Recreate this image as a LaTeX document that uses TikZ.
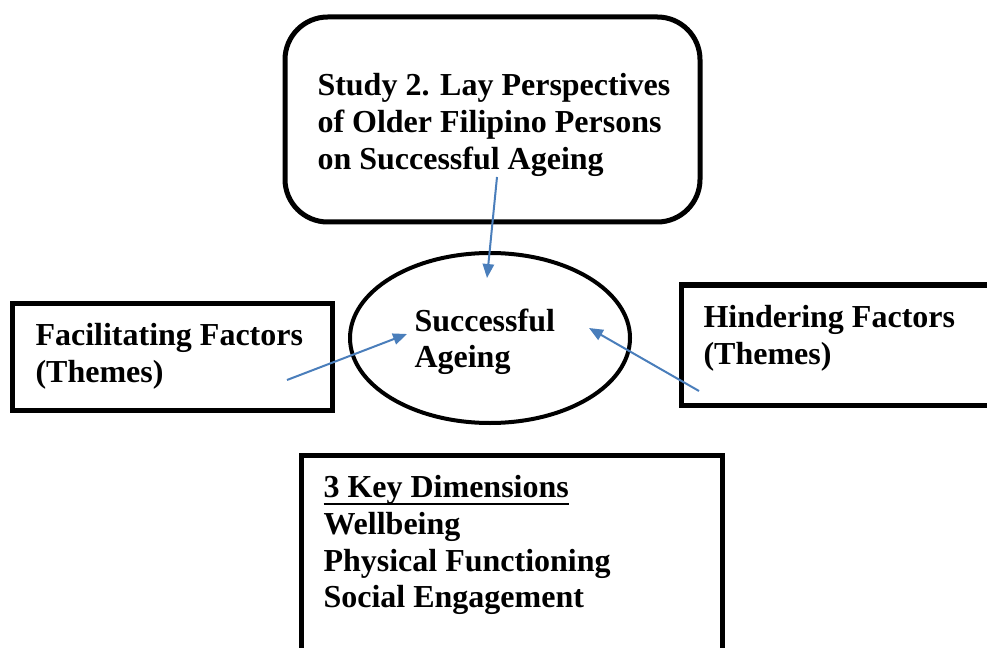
\documentclass[tikz,border=0pt]{standalone}
\usepackage{fontspec}
\setmainfont{Liberation Serif}
\usetikzlibrary{arrows.meta}
\definecolor{linkblue}{RGB}{74,126,187}
\newcommand{\thickul}[1]{\setbox0\hbox{#1}\rlap{\rule[-5.5pt]{\wd0}{1.5pt}}\box0}
\tikzset{every picture/.style={line width=0.75pt}}
\tikzset{
  boxline/.style={line width=3.75pt},
  linkarrow/.style={draw=linkblue,line width=1.5pt,-{Triangle[length=10.5pt,width=8.5pt]}},
  boxtext/.style={anchor=north west,inner sep=0.75pt,align=left,font=\fontsize{24}{27.5}\selectfont\bfseries}
}

\begin{document}
\begin{tikzpicture}[x=0.75pt,y=0.75pt,yscale=-1,xscale=1]
\path[use as bounding box] (0,0) rectangle (987,648);
\clip (0,0) rectangle (987,648);

%Shape: Rounded Rect [id:study]
\draw[boxline,rounded corners=32pt] (285,17) rectangle (700,222);
%Shape: Rectangle [id:facilitating]
\draw[boxline] (12,303) rectangle (332,410);
%Shape: Rectangle [id:hindering]
\draw[boxline] (681,285) rectangle (1000,405);
%Shape: Rectangle [id:dimensions]
\draw[boxline] (301,455) rectangle (722,670);
%Shape: Ellipse [id:ageing]
\coordinate (agecentre) at (490,338);
\draw[line width=3pt] (agecentre) ellipse [x radius=105pt,y radius=63.75pt];

% Text Node
\node[boxtext] (study) at (316,72) {Study 2. Lay Perspectives\\of Older Filipino Persons\\on Successful Ageing};
% Text Node
\node[boxtext] (ageing) at (413,307) {Successful\\Ageing};
% Text Node
\node[boxtext] (facil) at (34,322) {Facilitating Factors\\(Themes)};
% Text Node
\node[boxtext] (hinder) at (702,304) {Hindering Factors\\(Themes)};
% Text Node
\node[boxtext] (dims) at (322,474) {\thickul{3 Key Dimensions}\\Wellbeing\\Physical Functioning\\Social Engagement};

%Straight Lines
\coordinate (studyout) at (497,177);
\coordinate (ageingtop) at (487,278);
\draw[linkarrow] (studyout) -- (ageingtop);
%Straight Lines
\coordinate (facilout) at (287,380);
\coordinate (ageingleft) at (407,334);
\draw[linkarrow] (facilout) -- (ageingleft);
%Straight Lines
\coordinate (hinderout) at (699,391);
\coordinate (ageingright) at (589,328);
\draw[linkarrow] (hinderout) -- (ageingright);

\end{tikzpicture}
\end{document}
